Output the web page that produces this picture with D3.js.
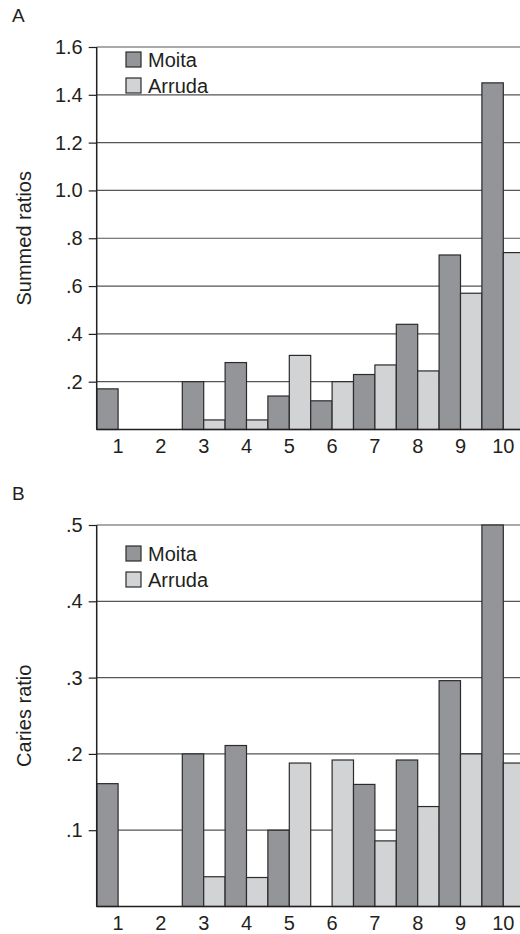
<!DOCTYPE html>
<html>
<head>
<meta charset="utf-8">
<script src="https://cdn.jsdelivr.net/npm/d3@7"></script>
<style>
  body { margin: 0; background: #fff; }
  text { font-family: "Liberation Sans", Arial, sans-serif; fill: #231f20; }
</style>
</head>
<body>
<div id="chart"></div>
<script>
var categories = ["1", "2", "3", "4", "5", "6", "7", "8", "9", "10"];
var seriesNames = ["Moita", "Arruda"];

// panel A - summed ratios
var moitaA  = [0.17, 0, 0.20, 0.28, 0.14, 0.12, 0.23, 0.44, 0.73, 1.45];
var arrudaA = [0, 0, 0.04, 0.04, 0.31, 0.20, 0.27, 0.245, 0.57, 0.74];
var ticksA  = [0.2, 0.4, 0.6, 0.8, 1.0, 1.2, 1.4, 1.6];

// panel B - caries ratio
var moitaB  = [0.161, 0, 0.20, 0.211, 0.10, 0, 0.16, 0.192, 0.296, 0.50];
var arrudaB = [0, 0, 0.039, 0.038, 0.188, 0.192, 0.086, 0.131, 0.20, 0.188];
var ticksB  = [0.1, 0.2, 0.3, 0.4, 0.5];

var colors = { Moita: "#939598", Arruda: "#d1d3d4" };

var width = 520, height = 934;

var svg = d3.select("#chart")
  .append("svg")
  .attr("width", width)
  .attr("height", height);

var x = d3.scaleBand()
  .domain(categories)
  .range([96.7, 524.7])
  .padding(0);

var xInner = d3.scaleBand()
  .domain(seriesNames)
  .range([0, x.bandwidth()])
  .padding(0);

function fmt(v) {
  var s = d3.format(".1f")(v);
  return s.charAt(0) == "0" ? s.slice(1) : s;
}

function drawPanel(opt) {
  var y = d3.scaleLinear().domain([0, opt.max]).range([opt.bottom, opt.top]);
  var g = svg.append("g");

  // panel letter
  g.append("text")
    .attr("x", 12)
    .attr("y", opt.top - 25)
    .style("font-size", "19px")
    .text(opt.letter);

  // gridlines
  g.selectAll(".grid")
    .data(opt.ticks)
    .enter().append("line")
    .attr("x1", x.range()[0])
    .attr("x2", width)
    .attr("y1", function (d) { return y(d); })
    .attr("y2", function (d) { return y(d); })
    .attr("stroke", "#555")
    .attr("stroke-width", 1.2);

  // bars
  var rows = categories.map(function (c, i) {
    return { cat: c, Moita: opt.moita[i], Arruda: opt.arruda[i] };
  });

  var groups = g.selectAll(".cat")
    .data(rows)
    .enter().append("g")
    .attr("transform", function (d) { return "translate(" + x(d.cat) + ",0)"; });

  groups.selectAll("rect")
    .data(function (d) {
      return seriesNames
        .map(function (k) { return { key: k, value: d[k] }; })
        .filter(function (e) { return e.value > 0; });
    })
    .enter().append("rect")
    .attr("x", function (d) { return xInner(d.key); })
    .attr("width", xInner.bandwidth())
    .attr("y", function (d) { return y(d.value); })
    .attr("height", function (d) { return y(0) - y(d.value); })
    .attr("fill", function (d) { return colors[d.key]; })
    .attr("stroke", "#2b2b2b")
    .attr("stroke-width", 1.2);

  // y axis
  var yAxis = d3.axisLeft(y)
    .tickValues(opt.ticks)
    .tickFormat(fmt)
    .tickSize(8)
    .tickPadding(6);

  var ya = g.append("g")
    .attr("transform", "translate(" + x.range()[0] + ",0)")
    .call(yAxis);
  ya.select(".domain").remove();
  ya.selectAll(".tick line").attr("stroke", "#231f20").attr("stroke-width", 1.2);
  ya.selectAll(".tick text")
    .style("font-size", "20px")
    .style("font-family", "'Liberation Sans', Arial, sans-serif")
    .attr("fill", "#231f20");

  g.append("line")
    .attr("x1", x.range()[0]).attr("x2", x.range()[0])
    .attr("y1", opt.top).attr("y2", opt.bottom)
    .attr("stroke", "#231f20").attr("stroke-width", 1.5);

  // x axis
  var xAxis = d3.axisBottom(x).tickSize(0).tickPadding(9);
  var xa = g.append("g")
    .attr("transform", "translate(0," + opt.bottom + ")")
    .call(xAxis);
  xa.select(".domain").remove();
  xa.selectAll(".tick text")
    .style("font-size", "20px")
    .style("font-family", "'Liberation Sans', Arial, sans-serif")
    .attr("fill", "#231f20");

  g.append("line")
    .attr("x1", x.range()[0]).attr("x2", width)
    .attr("y1", opt.bottom).attr("y2", opt.bottom)
    .attr("stroke", "#231f20").attr("stroke-width", 1.5);

  // y label
  g.append("text")
    .attr("transform", "translate(31," + (opt.top + opt.bottom) / 2 + ") rotate(-90)")
    .attr("text-anchor", "middle")
    .style("font-size", "20px")
    .text(opt.label);

  // legend
  var leg = g.selectAll(".leg")
    .data(seriesNames)
    .enter().append("g")
    .attr("transform", function (d, i) { return "translate(126," + (opt.legendTop + i * 26) + ")"; });
  leg.append("rect")
    .attr("width", 15).attr("height", 15)
    .attr("fill", function (d) { return colors[d]; })
    .attr("stroke", "#2b2b2b")
    .attr("stroke-width", 1.2);
  leg.append("text")
    .attr("x", 22)
    .attr("y", 14.5)
    .style("font-size", "20px")
    .text(function (d) { return d; });
}

drawPanel({ letter: "A", label: "Summed ratios", moita: moitaA, arruda: arrudaA,
  ticks: ticksA, max: 1.6, top: 47, bottom: 429.5, legendTop: 52 });

drawPanel({ letter: "B", label: "Caries ratio", moita: moitaB, arruda: arrudaB,
  ticks: ticksB, max: 0.5, top: 525, bottom: 906.5, legendTop: 546 });
</script>
</body>
</html>
